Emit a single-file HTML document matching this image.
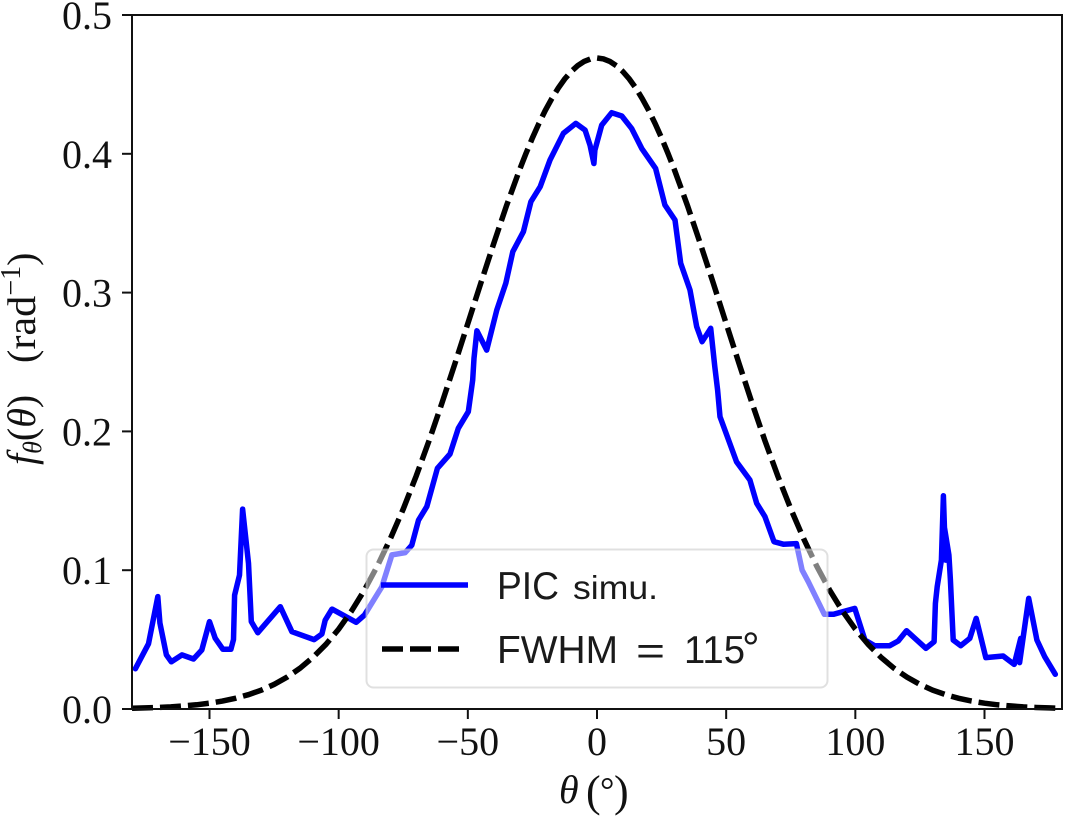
<!DOCTYPE html>
<html>
<head>
<meta charset="utf-8">
<title>Angular distribution chart</title>
<style>
html,body{margin:0;padding:0;background:#fff;}
svg{display:block;filter:blur(0.35px);}
text{fill:#111;}
.tick{font-family:"Liberation Serif",serif;font-size:40px;}
.leg{font-family:"Liberation Sans",sans-serif;fill:#1a1a1a;}
.lab{font-family:"Liberation Serif",serif;}
</style>
</head>
<body>
<svg id="chart" width="1069" height="819" viewBox="0 0 1069 819" xmlns="http://www.w3.org/2000/svg">
  <rect x="0" y="0" width="1069" height="819" fill="#fff"/>
  <g id="ticks"></g>
  <g id="series"></g>
  <rect x="132" y="15" width="930" height="694" fill="none" stroke="#111" stroke-width="2"/>

  <g>
    <rect x="366.5" y="549.5" width="461" height="138" rx="7" ry="7" fill="#fff" fill-opacity="0.5" stroke="#ccc" stroke-opacity="0.6" stroke-width="2"/>
    <line x1="381" y1="585" x2="468" y2="585" stroke="#0000ff" stroke-width="5.5"/>
    <line x1="382" y1="649" x2="459" y2="649" stroke="#000" stroke-width="5.5" stroke-dasharray="21 7"/>
    <text class="leg" x="497" y="599" font-size="39" textLength="62" lengthAdjust="spacingAndGlyphs">PIC</text>
    <text class="leg" x="573" y="599" font-size="33" textLength="85" lengthAdjust="spacingAndGlyphs">simu.</text>
    <text class="leg" x="497" y="663" font-size="39" textLength="121" lengthAdjust="spacingAndGlyphs">FWHM</text>
    <text class="leg" x="636" y="664" font-size="39" textLength="29" lengthAdjust="spacingAndGlyphs">=</text>
    <text class="leg" x="684" y="663" font-size="39" textLength="61" lengthAdjust="spacingAndGlyphs">115</text>
    <text class="leg" x="742" y="663" font-size="44">°</text>
  </g>

  <g>
    <text class="lab" x="559" y="803" font-size="40" font-style="italic">θ</text>
    <text class="lab" x="586" y="806" font-size="44">(</text>
    <text class="lab" x="600" y="802" font-size="36">°</text>
    <text class="lab" x="614" y="806" font-size="44">)</text>
  </g>

  <g transform="translate(35,465) rotate(-90)">
    <text class="lab" x="0" y="0" font-size="40"><tspan font-style="italic">f</tspan><tspan font-style="italic" font-size="26" dy="6">θ</tspan><tspan dy="-6">(</tspan><tspan font-style="italic">θ</tspan><tspan>)</tspan></text>
    <text class="lab" x="102" y="0" font-size="40"><tspan>(</tspan><tspan textLength="54" lengthAdjust="spacingAndGlyphs">rad</tspan><tspan font-size="28" dy="-15">−1</tspan><tspan dy="15">)</tspan></text>
  </g>
</svg>
<script>
// Data
var picTheta = [-178.7,-173.6,-170,-169.2,-166.7,-164.8,-160.7,-156.2,-153,-150,-147.8,-144.8,-141.7,-140.7,-140.3,-138.4,-137.2,-134.9,-133.8,-131.3,-122.6,-118.1,-109.5,-106.5,-105.2,-102.6,-93.2,-90,-83.3,-79.4,-74.3,-71.7,-69.1,-65.9,-61.8,-56.9,-53.7,-49.8,-48.1,-47.6,-46.5,-42.7,-38.8,-35.3,-32.6,-28.5,-25.6,-22,-18.2,-13,-8.2,-4.6,-2.7,-1.2,-0.8,1.8,5.7,9.6,13.4,17.3,22.7,26.3,30.2,32.4,36,38.6,40.7,44,45.6,46.7,47.6,54,59.2,61.8,65,68.5,72.1,77.2,79.4,81.8,88,91.5,99.8,103.7,107.5,113.3,116.6,119.8,127.3,130.5,131,131.7,133.3,134.1,134.9,134.2,136.2,136.8,137.9,140.8,144.3,146.8,150.5,157.2,161.5,164,163.6,167.1,170.3,173.3,177.4];
var picValues = [0.029,0.047,0.081,0.062,0.039,0.034,0.039,0.036,0.0425,0.063,0.051,0.043,0.043,0.05,0.082,0.0965,0.144,0.105,0.063,0.055,0.0737,0.0557,0.05,0.054,0.064,0.072,0.0625,0.0677,0.088,0.111,0.1126,0.118,0.136,0.1458,0.1734,0.1837,0.2022,0.2142,0.237,0.2527,0.2725,0.2586,0.2875,0.3067,0.3295,0.3439,0.3655,0.3763,0.3955,0.4148,0.4219,0.4171,0.4063,0.393,0.4027,0.4207,0.4296,0.4272,0.4183,0.4039,0.3895,0.3631,0.3523,0.3211,0.3019,0.2754,0.2646,0.2743,0.2466,0.2298,0.2106,0.1782,0.165,0.1482,0.1386,0.1205,0.1187,0.1192,0.1001,0.0917,0.0682,0.0682,0.0725,0.0497,0.0456,0.0456,0.049,0.0564,0.0437,0.0485,0.0761,0.0881,0.1073,0.1537,0.1073,0.134,0.111,0.093,0.0497,0.0456,0.0509,0.0653,0.037,0.0382,0.0321,0.0509,0.0334,0.0797,0.0497,0.0377,0.025];
var fwhmTheta = [-180,-175,-170,-165,-160,-155,-150,-145,-140,-135,-130,-125,-120,-115,-110,-105,-100,-95,-90,-85,-80,-75,-70,-65,-60,-55,-50,-45,-40,-35,-32.5,-30,-27.5,-25,-22.5,-20,-17.5,-15,-12.5,-10,-7.5,-5,-2.5,0,2.5,5,7.5,10,12.5,15,17.5,20,22.5,25,27.5,30,32.5,35,40,45,50,55,60,65,70,75,80,85,90,95,100,105,110,115,120,125,130,135,140,145,150,155,160,165,170,175,180];
var fwhmValues = [0.0005,0.0008,0.0011,0.0015,0.0022,0.003,0.0042,0.0057,0.0077,0.0103,0.01355,0.0177,0.0229,0.0293,0.0371,0.0465,0.0576,0.0707,0.0858,0.1031,0.1226,0.1442,0.1679,0.1934,0.2205,0.2488,0.2777,0.3068,0.3353,0.3628,0.3755,0.3883,0.4003,0.4114,0.4218,0.4313,0.4398,0.4474,0.4539,0.4593,0.4635,0.4665,0.4684,0.469,0.4684,0.4665,0.4635,0.4593,0.4539,0.4474,0.4398,0.4313,0.4218,0.4114,0.4003,0.3883,0.3755,0.3628,0.3353,0.3068,0.2777,0.2488,0.2205,0.1934,0.1679,0.1442,0.1226,0.1031,0.0858,0.0707,0.0576,0.0465,0.0371,0.0293,0.0229,0.0177,0.01355,0.0103,0.0077,0.0057,0.0042,0.003,0.0022,0.0015,0.0011,0.0008,0.0005];
var xTicks = [-150,-100,-50,0,50,100,150];
var xTickLabels = ['−150','−100','−50','0','50','100','150'];
var yTicks = [0,0.1,0.2,0.3,0.4,0.5];
var yTickLabels = ['0.0','0.1','0.2','0.3','0.4','0.5'];

var NS = 'http://www.w3.org/2000/svg';
function xScale(v){ return 132 + (v + 180) * (930 / 360); }
function yScale(v){ return 709 - v * (694 / 0.5); }
function pointsFor(xs, ys){
  return xs.map(function(x, i){ return xScale(x).toFixed(1) + ',' + yScale(ys[i]).toFixed(1); }).join(' ');
}
var tickGroup = document.getElementById('ticks');
var seriesGroup = document.getElementById('series');

xTicks.forEach(function(t, i){
  var ln = document.createElementNS(NS, 'line');
  
  
  ln.setAttribute('x1', xScale(t)); ln.setAttribute('x2', xScale(t));
  ln.setAttribute('y1', 709); ln.setAttribute('y2', 719);
  ln.setAttribute('stroke', '#111'); ln.setAttribute('stroke-width', 2);
  tickGroup.appendChild(ln);
  var tx = document.createElementNS(NS, 'text');
  
  
  tx.setAttribute('class', 'tick');
  tx.setAttribute('x', xScale(t));
  tx.setAttribute('y', 755);
  tx.setAttribute('text-anchor', 'middle');
  tx.textContent = xTickLabels[i];
  tickGroup.appendChild(tx);
});
yTicks.forEach(function(t, i){
  var ln = document.createElementNS(NS, 'line');
  
  
  ln.setAttribute('x1', 122); ln.setAttribute('x2', 132);
  ln.setAttribute('y1', yScale(t)); ln.setAttribute('y2', yScale(t));
  ln.setAttribute('stroke', '#111'); ln.setAttribute('stroke-width', 2);
  tickGroup.appendChild(ln);
  var tx = document.createElementNS(NS, 'text');
  
  
  tx.setAttribute('class', 'tick');
  tx.setAttribute('x', 112);
  tx.setAttribute('y', yScale(t) + 14);
  tx.setAttribute('text-anchor', 'end');
  tx.textContent = yTickLabels[i];
  tickGroup.appendChild(tx);
});

var picLine = document.createElementNS(NS, 'polyline');


picLine.setAttribute('points', pointsFor(picTheta, picValues));
picLine.setAttribute('fill', 'none');
picLine.setAttribute('stroke', '#0000ff');
picLine.setAttribute('stroke-width', '5.5');
picLine.setAttribute('stroke-linejoin', 'round');
picLine.setAttribute('stroke-linecap', 'round');
seriesGroup.appendChild(picLine);

var fwhmLine = document.createElementNS(NS, 'polyline');


fwhmLine.setAttribute('points', pointsFor(fwhmTheta, fwhmValues));
fwhmLine.setAttribute('fill', 'none');
fwhmLine.setAttribute('stroke', '#000');
fwhmLine.setAttribute('stroke-width', '5.5');
fwhmLine.setAttribute('stroke-dasharray', '21 7');
seriesGroup.appendChild(fwhmLine);
</script>
</body>
</html>
